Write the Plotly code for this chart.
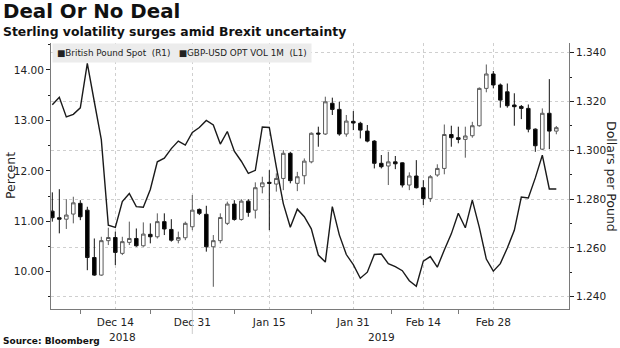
import pandas as pd
import plotly.graph_objects as go

# ---- data -------------------------------------------------------------
# one entry per weekday, 3 Dec 2018 .. 13 Mar 2019, stamped at midday
dates = pd.bdate_range("2018-12-03", "2019-03-13") + pd.Timedelta(hours=12)

gbp_open = [
    1.2751, 1.2724, 1.2718, 1.2739, 1.2783, 1.2755, 1.2561, 1.2489, 1.2630, 1.2643,
    1.2578, 1.2623, 1.2639, 1.2609, 1.2656, 1.2646, 1.2708, 1.2676, 1.2632, 1.2642,
    1.2687, 1.2758, 1.2738, 1.2605, 1.2630, 1.2701, 1.2780, 1.2717, 1.2792, 1.2755,
    1.2851, 1.2869, 1.2862, 1.2885, 1.2988, 1.2865, 1.2896, 1.2953, 1.3071, 1.3067,
    1.3193, 1.3168, 1.3067, 1.3119, 1.3111, 1.3079, 1.3038, 1.2947, 1.2936, 1.2953,
    1.2949, 1.2858, 1.2895, 1.2847, 1.2803, 1.2899, 1.2926, 1.3065, 1.3052, 1.3045,
    1.3060, 1.3101, 1.3254, 1.3313, 1.3268, 1.3240, 1.3186, 1.3180, 1.3172, 1.3087,
    1.3005, 1.3152, 1.3079,
]
gbp_high = [
    1.2828, 1.2841, 1.2800, 1.2810, 1.2796, 1.2769, 1.2639, 1.2646, 1.2683, 1.2667,
    1.2646, 1.2708, 1.2680, 1.2705, 1.2701, 1.2742, 1.2742, 1.2718, 1.2667, 1.2708,
    1.2817, 1.2762, 1.2773, 1.2653, 1.2742, 1.2790, 1.2796, 1.2800, 1.2800, 1.2869,
    1.2892, 1.2919, 1.2906, 1.3001, 1.2994, 1.2912, 1.2967, 1.3074, 1.3097, 1.3220,
    1.3216, 1.3199, 1.3145, 1.3161, 1.3117, 1.3104, 1.3042, 1.2981, 1.2994, 1.2977,
    1.2951, 1.2910, 1.2960, 1.2878, 1.2899, 1.2943, 1.3106, 1.3101, 1.3097, 1.3097,
    1.3117, 1.3258, 1.3352, 1.3325, 1.3274, 1.3274, 1.3234, 1.3186, 1.3188, 1.3090,
    1.3172, 1.3292, 1.3100,
]
gbp_low = [
    1.2708, 1.2660, 1.2678, 1.2701, 1.2714, 1.2509, 1.2486, 1.2486, 1.2612, 1.2530,
    1.2571, 1.2612, 1.2605, 1.2605, 1.2619, 1.2639, 1.2653, 1.2626, 1.2619, 1.2632,
    1.2673, 1.2735, 1.2585, 1.2441, 1.2619, 1.2694, 1.2712, 1.2712, 1.2728, 1.2721,
    1.2824, 1.2673, 1.2831, 1.2837, 1.2865, 1.2833, 1.2861, 1.2947, 1.3015, 1.3063,
    1.3145, 1.3060, 1.3056, 1.3083, 1.3049, 1.3033, 1.2926, 1.2926, 1.2858, 1.2923,
    1.2848, 1.2837, 1.2844, 1.2776, 1.2789, 1.2892, 1.2902, 1.3015, 1.3029, 1.2970,
    1.3052, 1.3097, 1.3238, 1.3254, 1.3175, 1.3175, 1.3101, 1.3128, 1.3074, 1.2994,
    1.3001, 1.3005, 1.3066,
]
gbp_close = [
    1.2724, 1.2718, 1.2735, 1.2785, 1.2728, 1.2561, 1.2489, 1.2630, 1.2643, 1.2582,
    1.2626, 1.2639, 1.2609, 1.2657, 1.2646, 1.2708, 1.2678, 1.2632, 1.2643, 1.2701,
    1.2755, 1.2742, 1.2605, 1.2630, 1.2725, 1.2780, 1.2717, 1.2792, 1.2746, 1.2847,
    1.2867, 1.2865, 1.2885, 1.2988, 1.2876, 1.2892, 1.2956, 1.3070, 1.3067, 1.3199,
    1.3168, 1.3067, 1.3120, 1.3112, 1.3083, 1.3038, 1.2947, 1.2933, 1.2953, 1.2945,
    1.2858, 1.2895, 1.2847, 1.2803, 1.2892, 1.2926, 1.3065, 1.3052, 1.3045, 1.3059,
    1.3101, 1.3254, 1.3313, 1.3268, 1.3206, 1.3183, 1.3179, 1.3172, 1.3087, 1.3019,
    1.3152, 1.3079, 1.3093,
]
vol_1m = [
    13.31, 13.46, 13.07, 13.12, 13.25, 14.13, 13.37, 12.62, 10.92, 10.88,
    11.39, 11.55, 11.29, 11.28, 11.63, 12.18, 12.25, 12.44, 12.59, 12.51,
    12.76, 12.86, 13.00, 12.91, 12.53, 12.78, 12.39, 12.19, 11.95, 12.01,
    12.87, 12.86, 12.08, 11.35, 10.88, 11.24, 11.09, 10.85, 10.33, 10.19,
    11.29, 10.73, 10.34, 10.14, 9.87, 9.99, 10.34, 10.35, 10.16, 10.10,
    10.02, 9.82, 9.71, 10.21, 10.30, 10.09, 10.43, 10.75, 11.16, 10.87,
    11.42, 10.88, 10.25, 10.01, 10.16, 10.47, 10.82, 11.48, 11.46, 11.86,
    12.31, 11.64, 11.64,
]

tick_dates = ["2018-12-14 12:00", "2018-12-31 12:00", "2019-01-15 12:00",
              "2019-01-31 12:00", "2019-02-14 12:00", "2019-02-28 12:00"]
tick_text = ["Dec 14", "Dec 31", "Jan 15", "Jan 31", "Feb 14", "Feb 28"]
mid_ticks = ["2018-12-07 12:00", "2018-12-21 12:00", "2019-01-08 12:00",
             "2019-01-23 12:00", "2019-02-08 00:00", "2019-02-21 12:00",
             "2019-03-09 00:00"]
years = ["2018", "2019"]
year_centres = ["2018-12-17 12:00", "2019-02-06 12:00"]

# ---- geometry helpers ---------------------------------------------------
W, H = 620, 348
L, R, T, B = 51, 51, 43, 39
PW, PH = W - L - R, H - T - B


def px(x):
    return (x - L) / PW


def py(y):
    return (H - B - y) / PH


FONT = "DejaVu Sans"
INK = "#222222"
AXIS = "#7a7a7a"
GRID = "#cfcfcf"

fig = go.Figure()

fig.add_trace(go.Scatter(
    x=dates, y=vol_1m, mode="lines", name="GBP-USD OPT VOL 1M (L1)",
    line=dict(color="#1a1a1a", width=1.4), yaxis="y", showlegend=False,
))

fig.add_trace(go.Candlestick(
    x=dates, open=gbp_open, high=gbp_high, low=gbp_low, close=gbp_close,
    name="British Pound Spot (R1)", yaxis="y2", showlegend=False,
    increasing=dict(line=dict(color="#5a5a5a", width=1), fillcolor="#ffffff"),
    decreasing=dict(line=dict(color="#111111", width=1), fillcolor="#000000"),
))

x_range = ["2018-12-03 07:30", "2019-03-15 07:30"]

fig.update_layout(
    width=W, height=H,
    margin=dict(l=L, r=R, t=T, b=B, pad=0),
    paper_bgcolor="white", plot_bgcolor="white",
    font=dict(family=FONT, size=10.5, color=INK),
    showlegend=False,
    boxgap=0.28,
    xaxis=dict(
        type="date", range=x_range,
        rangebreaks=[dict(bounds=["sat", "mon"])],
        rangeslider=dict(visible=False),
        tickmode="array", tickvals=tick_dates, ticktext=tick_text,
        ticks="", ticklabelstandoff=3,
        showgrid=True, gridcolor=GRID, griddash="dot", gridwidth=1,
        showline=True, linecolor=AXIS, linewidth=1,
        minor=dict(tickmode="array", tickvals=mid_ticks, ticks="outside",
                   ticklen=4, tickcolor=AXIS, showgrid=False),
        zeroline=False,
    ),
    yaxis=dict(
        range=[9.26, 14.535], tickmode="array", tickvals=[10, 11, 12, 13, 14],
        tickformat=".2f", ticks="outside", ticklen=4, tickcolor=INK,
        showline=True, linecolor=AXIS, linewidth=1, showgrid=False,
        minor=dict(dtick=0.5, tick0=0, ticks="outside", ticklen=2,
                   tickcolor=INK, showgrid=False),
        zeroline=False,
    ),
    yaxis2=dict(
        overlaying="y", side="right", anchor="x",
        range=[1.235, 1.344], tickmode="linear", tick0=1.24, dtick=0.02,
        tickformat=".3f", ticks="outside", ticklen=4, tickcolor=INK,
        showline=True, linecolor=AXIS, linewidth=1,
        showgrid=True, gridcolor=GRID, griddash="dot", gridwidth=1,
        minor=dict(dtick=0.01, tick0=1.24, ticks="outside", ticklen=2,
                   tickcolor=INK, showgrid=False),
        zeroline=False,
    ),
)

annotations = [
    dict(text="<b>Deal Or No Deal</b>", x=px(1), y=py(12),
         font=dict(size=19.8, color="#111111")),
    dict(text="<b>Sterling volatility surges amid Brexit uncertainty</b>",
         x=px(1), y=py(31.5), font=dict(size=12.4, color="#111111")),
    dict(text="<b>Source: Bloomberg</b>", x=px(1), y=py(341),
         font=dict(size=9, color="#111111")),
]
for a in annotations:
    a.update(xref="paper", yref="paper", xanchor="left", yanchor="middle",
             showarrow=False)
    a["font"]["family"] = FONT

# key for the two series
legend_text = ("\u25a0British Pound Spot\u00a0\u00a0(R1)\u00a0\u00a0\u00a0"
               "\u25a0GBP-USD OPT VOL 1M\u00a0\u00a0(L1)")
annotations.append(dict(
    text=legend_text, xref="paper", yref="paper", x=px(52), y=py(43.5),
    xanchor="left", yanchor="top", showarrow=False,
    bgcolor="#ececec", borderpad=4,
    font=dict(family=FONT, size=8.8, color=INK),
))

# axis titles
annotations.append(dict(
    text="Percent", xref="paper", yref="paper", x=px(10), y=py(176),
    xanchor="center", yanchor="middle", textangle=-90, showarrow=False,
    font=dict(family=FONT, size=12.5, color=INK),
))
annotations.append(dict(
    text="Dollars per Pound", xref="paper", yref="paper", x=px(612), y=py(176),
    xanchor="center", yanchor="middle", textangle=90, showarrow=False,
    font=dict(family=FONT, size=12.5, color=INK),
))

# year labels under the date ticks
for yr, xc in zip(years, year_centres):
    annotations.append(dict(
        text=yr, xref="x", yref="paper", x=xc, y=py(337),
        xanchor="center", yanchor="middle", showarrow=False,
        font=dict(family=FONT, size=10.5, color=INK),
    ))

fig.update_layout(annotations=annotations)

# year separator below the axis
fig.add_shape(type="line", xref="x", yref="paper",
              x0="2018-12-31 12:00", x1="2018-12-31 12:00",
              y0=0, y1=py(334), line=dict(color="#cccccc", width=1))

fig.write_html("out.html")
